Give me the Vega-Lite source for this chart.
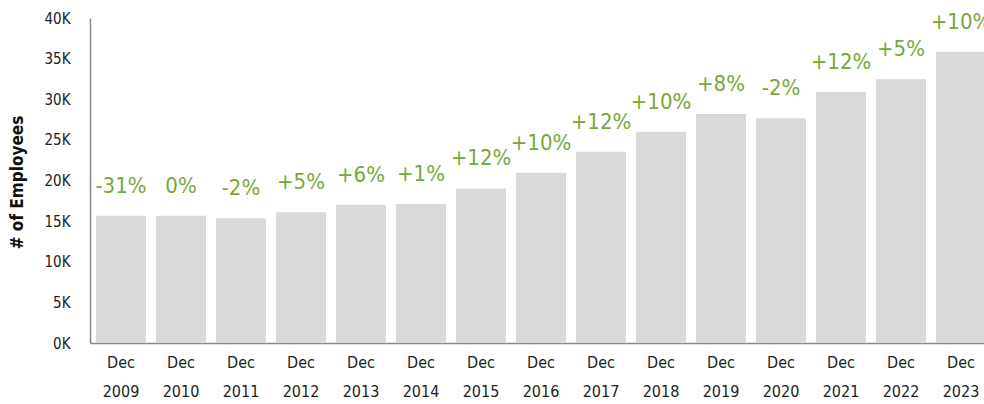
{
  "$schema": "https://vega.github.io/schema/vega-lite/v6.json",
  "autosize": {"type": "none"},
  "padding": {"left": 90, "top": 18, "right": 0, "bottom": 61},
  "width": 902,
  "height": 325,
  "background": "white",
  "data": {
    "values": [
      {"year": "2009", "employees": 15650, "change": "-31%"},
      {"year": "2010", "employees": 15650, "change": "0%"},
      {"year": "2011", "employees": 15340, "change": "-2%"},
      {"year": "2012", "employees": 16080, "change": "+5%"},
      {"year": "2013", "employees": 17020, "change": "+6%"},
      {"year": "2014", "employees": 17100, "change": "+1%"},
      {"year": "2015", "employees": 19030, "change": "+12%"},
      {"year": "2016", "employees": 20960, "change": "+10%"},
      {"year": "2017", "employees": 23540, "change": "+12%"},
      {"year": "2018", "employees": 26000, "change": "+10%"},
      {"year": "2019", "employees": 28200, "change": "+8%"},
      {"year": "2020", "employees": 27650, "change": "-2%"},
      {"year": "2021", "employees": 30900, "change": "+12%"},
      {"year": "2022", "employees": 32450, "change": "+5%"},
      {"year": "2023", "employees": 35850, "change": "+10%"}
    ]
  },
  "config": {
    "view": {"stroke": null},
    "font": "DejaVu Sans Condensed"
  },
  "encoding": {
    "x": {
      "field": "year",
      "type": "nominal",
      "sort": null,
      "scale": {"paddingInner": 0.167, "paddingOuter": 0.1},
      "axis": {
        "title": null,
        "labelAngle": 0,
        "ticks": false,
        "domainColor": "#888888",
        "domainWidth": 1.5,
        "labelFont": "DejaVu Sans Condensed",
        "labelFontSize": 16,
        "labelColor": "#222222",
        "labelPadding": 11,
        "labelLineHeight": 29,
        "labelExpr": "['Dec', datum.value]"
      }
    },
    "y": {
      "field": "employees",
      "type": "quantitative",
      "scale": {"domain": [0, 40000], "nice": false},
      "axis": {
        "title": "# of Employees",
        "titleFont": "DejaVu Sans Condensed",
        "titleFontSize": 17,
        "titleFontWeight": "bold",
        "titleColor": "#111111",
        "titleAngle": -90,
        "titleX": -73,
        "titleY": 164,
        "titleBaseline": "middle",
        "titleAlign": "center",
        "values": [0, 5000, 10000, 15000, 20000, 25000, 30000, 35000, 40000],
        "labelExpr": "(datum.value / 1000) + 'K'",
        "labelFont": "DejaVu Sans Condensed",
        "labelFontSize": 15,
        "labelColor": "#222222",
        "labelPadding": 20,
        "ticks": false,
        "grid": false,
        "domainColor": "#888888",
        "domainWidth": 1.5
      }
    }
  },
  "layer": [
    {"mark": {"type": "bar", "color": "#d9d9d9"}},
    {
      "mark": {
        "type": "text",
        "baseline": "bottom",
        "dy": -18,
        "fontSize": 22,
        "font": "DejaVu Sans Condensed",
        "color": "#77a83b"
      },
      "encoding": {"text": {"field": "change"}}
    }
  ]
}
